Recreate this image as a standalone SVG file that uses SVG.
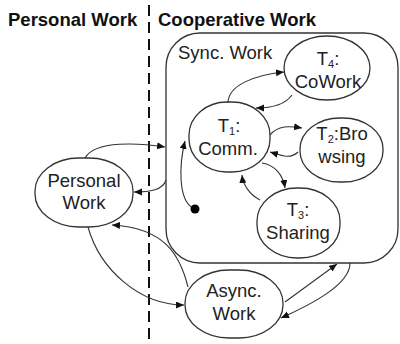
<svg xmlns="http://www.w3.org/2000/svg" width="400" height="344" viewBox="0 0 400 344">
<defs>
<marker id="ah" markerUnits="userSpaceOnUse" markerWidth="9" markerHeight="8" refX="8" refY="3.5" orient="auto">
<path d="M0,0 L8,3.5 L0,7 z" fill="#111"/>
</marker>
<style>
.n{fill:#fff;stroke:#333;stroke-width:1.3}
.t{font-family:"Liberation Sans",Arial,sans-serif;font-size:18.5px;fill:#222;text-anchor:middle}
.s{font-size:11px}
.c{fill:none;stroke:#333;stroke-width:1.1;marker-end:url(#ah)}
.h{font-family:"Liberation Sans",Arial,sans-serif;font-size:18.5px;font-weight:bold;fill:#111}
</style>
</defs>
<rect width="400" height="344" fill="#fff"/>
<text class="h" x="8" y="26">Personal Work</text>
<text class="h" x="158" y="26">Cooperative Work</text>
<line x1="149" y1="5" x2="149" y2="344" stroke="#111" stroke-width="2" stroke-dasharray="11,6"/>
<g id="sync">
<rect class="n" x="166" y="33" width="232" height="230" rx="34" ry="34"/>
<text class="t" x="178" y="59" style="text-anchor:start">Sync. Work</text>
</g>
<g id="t4">
<ellipse class="n" cx="327" cy="68" rx="43" ry="32"/>
<text class="t" x="328" y="65">T<tspan class="s" dy="3">4</tspan><tspan dy="-3">:</tspan></text>
<text class="t" x="328" y="88">CoWork</text>
</g>
<g id="t1">
<rect class="n" x="189" y="102" width="81" height="70" rx="38" ry="33"/>
<text class="t" x="229" y="132">T<tspan class="s" dy="3">1</tspan><tspan dy="-3">:</tspan></text>
<text class="t" x="228" y="155">Comm.</text>
</g>
<g id="t2">
<rect class="n" x="300" y="118" width="83" height="64" rx="40" ry="31"/>
<text class="t" x="342" y="140">T<tspan class="s" dy="3">2</tspan><tspan dy="-3">:Bro</tspan></text>
<text class="t" x="342" y="163">wsing</text>
</g>
<g id="t3">
<rect class="n" x="257" y="188" width="83" height="70" rx="40" ry="33"/>
<text class="t" x="298" y="216">T<tspan class="s" dy="3">3</tspan><tspan dy="-3">:</tspan></text>
<text class="t" x="298" y="239">Sharing</text>
</g>
<g id="personal">
<rect class="n" x="35" y="158" width="98" height="69" rx="44" ry="33"/>
<text class="t" x="84" y="187">Personal</text>
<text class="t" x="84" y="209">Work</text>
</g>
<g id="async">
<rect class="n" x="185" y="270" width="98" height="68" rx="44" ry="33"/>
<text class="t" x="234" y="297">Async.</text>
<text class="t" x="234" y="320">Work</text>
</g>
<g id="connectors">
<path class="c" d="M85 158 C95 140 140 143 165 147"/>
<path class="c" d="M166 180 C163 190 150 192 134 192"/>
<path class="c" d="M188 287 C180 255 165 228 112 225"/>
<path class="c" d="M88 227 C100 270 140 305 184 305"/>
<path class="c" d="M285 302 L337 264"/>
<path class="c" d="M350 263 C350 285 310 305 281 318"/>
<path class="c" d="M228 103 C228 85 255 75 284 72"/>
<path class="c" d="M292 95 C285 105 270 108 256 108"/>
<path class="c" d="M270 135 C278 125 290 126 302 128"/>
<path class="c" d="M298 152 C290 160 280 155 270 152"/>
<path class="c" d="M262 163 C275 165 283 175 285 188"/>
<path class="c" d="M260 200 C250 195 243 185 242 175"/>
<path class="c" d="M193 208 C178 200 179 165 185 141"/>
<circle cx="195" cy="209" r="4.5" fill="#000"/>
</g>
</svg>
